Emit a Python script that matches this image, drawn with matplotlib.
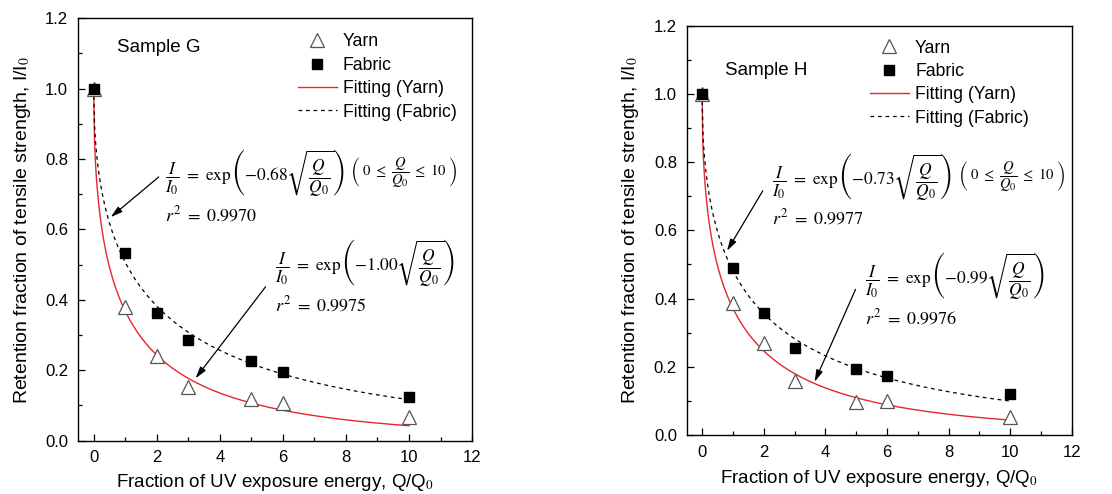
import matplotlib
matplotlib.use("Agg")
import matplotlib.pyplot as plt
import numpy as np

plt.rcParams["font.family"] = ["Liberation Sans", "DejaVu Sans"]
plt.rcParams["mathtext.fontset"] = "stix"

# exposure fractions Q/Q0
q_points = [0, 1, 2, 3, 5, 6, 10]

# Sample G
g_yarn = [1.0, 0.38, 0.24, 0.153, 0.118, 0.106, 0.066]
g_fabric = [1.0, 0.532, 0.363, 0.286, 0.225, 0.196, 0.125]
g_k_yarn, g_r2_yarn = 1.00, "0.9975"
g_k_fabric, g_r2_fabric = 0.68, "0.9970"

# Sample H
h_yarn = [1.0, 0.386, 0.271, 0.159, 0.096, 0.10, 0.054]
h_fabric = [1.0, 0.49, 0.359, 0.255, 0.195, 0.173, 0.119]
h_k_yarn, h_r2_yarn = 0.99, "0.9976"
h_k_fabric, h_r2_fabric = 0.73, "0.9977"

x_ticks = [0, 2, 4, 6, 8, 10, 12]
y_ticks = [0.0, 0.2, 0.4, 0.6, 0.8, 1.0, 1.2]

RANGE_TXT = r"$\left(\ 0\ \leq\ \dfrac{Q}{Q_0}\ \leq\ 10\ \right)$"


def eq_text(k):
    return r"$\dfrac{I}{I_0}\ =\ \exp\left(-%.2f\sqrt{\dfrac{Q}{Q_0}}\right)$" % k


def draw_panel(ax, name, yarn, fabric, k_yarn, r2_yarn, k_fabric, r2_fabric, layout):
    q_fit = np.linspace(0, 10, 400)
    ax.plot(q_fit, np.exp(-k_yarn * np.sqrt(q_fit)), color="#e8262b", lw=1.0,
            label="Fitting (Yarn)", zorder=2)
    ax.plot(q_fit, np.exp(-k_fabric * np.sqrt(q_fit)), color="black", lw=0.9,
            ls=(0, (3, 3)), label="Fitting (Fabric)", zorder=2)
    ax.plot(q_points, yarn, "^", ms=10.5, mfc="white", mec="#555555", mew=0.9,
            label="Yarn", zorder=3)
    ax.plot(q_points, fabric, "s", ms=7.8, color="black", label="Fabric", zorder=4)

    ax.set_xlim(-0.5, 12)
    ax.set_ylim(0, 1.2)
    ax.set_xticks(x_ticks)
    ax.set_yticks(y_ticks)
    ax.set_yticklabels([f"{v:.1f}" for v in y_ticks])
    ax.set_xticks(np.arange(1, 12, 2), minor=True)
    ax.set_yticks(np.arange(0.1, 1.2, 0.2), minor=True)
    ax.tick_params(which="both", direction="in", labelsize=12, width=0.9)
    ax.tick_params(which="major", length=5, pad=7)
    ax.tick_params(which="minor", length=3)
    for sp in ax.spines.values():
        sp.set_linewidth(1.0)

    ax.set_xlabel("Fraction of UV exposure energy, Q/Q$_0$", fontsize=13.5,
                  labelpad=layout["xpad"])
    ax.set_ylabel("Retention fraction of tensile strength, I/I$_0$", fontsize=14,
                  labelpad=9)

    ax.text(layout["name"][0], layout["name"][1], name, fontsize=13.5, va="center")

    h, l = ax.get_legend_handles_labels()
    order = [2, 3, 0, 1]
    ax.legend([h[i] for i in order], [l[i] for i in order], frameon=False,
              loc="upper left", bbox_to_anchor=layout["leg"], fontsize=12.7,
              handlelength=2.2, handletextpad=0.35, labelspacing=0.36,
              borderpad=0, borderaxespad=0)

    arrow = dict(arrowstyle="-|>,head_length=0.7,head_width=0.2", color="black",
                 lw=0.9, mutation_scale=10, shrinkA=0, shrinkB=0)

    # fabric equation (upper), range note placed right after it
    ax.annotate("", xy=layout["arr1"][1], xytext=layout["arr1"][0], arrowprops=arrow)
    eq1 = ax.text(layout["eq1"][0], layout["eq1"][1], eq_text(k_fabric),
                  fontsize=12.5, va="center")
    ax.annotate(RANGE_TXT, xy=(1, 0.5), xycoords=eq1, xytext=(4, 0),
                textcoords="offset points", fontsize=10.5, va="center")
    ax.text(layout["r1"][0], layout["r1"][1], r"$r^2\ =\ %s$" % r2_fabric,
            fontsize=13, va="center")

    # yarn equation (lower)
    ax.annotate("", xy=layout["arr2"][1], xytext=layout["arr2"][0], arrowprops=arrow)
    ax.text(layout["eq2"][0], layout["eq2"][1], eq_text(k_yarn),
            fontsize=12.5, va="center")
    ax.text(layout["r2"][0], layout["r2"][1], r"$r^2\ =\ %s$" % r2_yarn,
            fontsize=13, va="center")


fig = plt.figure(figsize=(11.12, 4.94), dpi=100)
ax1 = fig.add_axes([0.0701, 0.108, 0.3544, 0.855])
ax2 = fig.add_axes([0.6175, 0.1194, 0.3465, 0.8286])

layout_g = dict(xpad=5, name=(0.73, 1.116), leg=(0.558, 0.964),
                arr1=((2.06, 0.749), (0.54, 0.635)), eq1=(2.25, 0.76),
                r1=(2.25, 0.64),
                arr2=((5.45, 0.437), (3.23, 0.177)), eq2=(5.75, 0.505),
                r2=(5.75, 0.385))
layout_h = dict(xpad=6, name=(0.76, 1.07), leg=(0.476, 0.966),
                arr1=((1.97, 0.716), (0.81, 0.54)), eq1=(2.27, 0.757),
                r1=(2.27, 0.636),
                arr2=((4.98, 0.427), (3.65, 0.156)), eq2=(5.27, 0.466),
                r2=(5.27, 0.343))

draw_panel(ax1, "Sample G", g_yarn, g_fabric, g_k_yarn, g_r2_yarn,
           g_k_fabric, g_r2_fabric, layout_g)
draw_panel(ax2, "Sample H", h_yarn, h_fabric, h_k_yarn, h_r2_yarn,
           h_k_fabric, h_r2_fabric, layout_h)

fig.savefig("out.png", dpi=100)
